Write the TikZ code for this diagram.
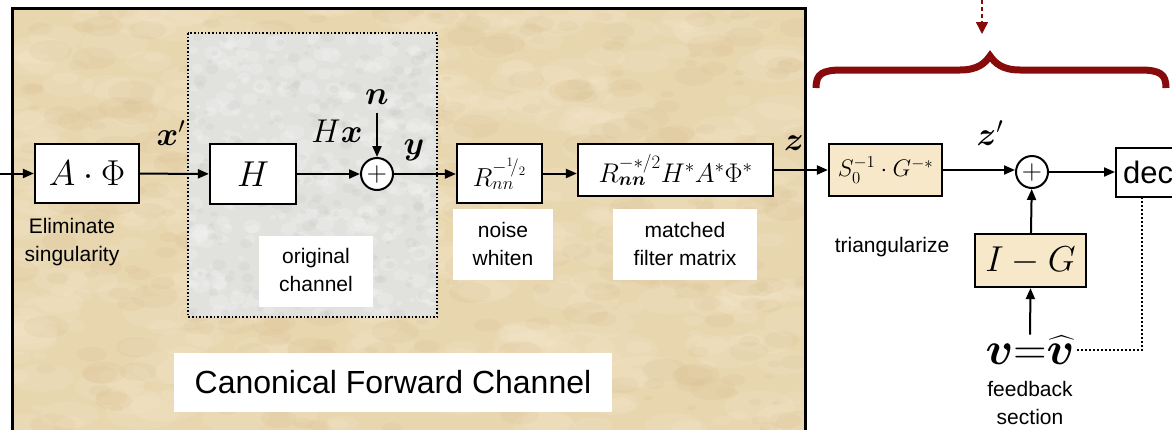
\documentclass[tikz,border=0pt]{standalone}
\usepackage{fix-cm}
\usepackage{amsmath,bm}
\usepackage{fontspec}
\setsansfont{Liberation Sans}
\usetikzlibrary{arrows.meta,calc}
\definecolor{bgtan}{HTML}{E8D6AF}
\definecolor{tanlight}{HTML}{F4E8CC}
\definecolor{tandark}{HTML}{D6BD8C}
\definecolor{bggray}{HTML}{E1E1DE}
\definecolor{graylight}{HTML}{F2F2F0}
\definecolor{graydark}{HTML}{C6C6C2}
\definecolor{boxtan}{HTML}{F8E8CA}
\definecolor{bracered}{HTML}{870B0B}
\newcommand\lbltxt{\fontsize{21}{28}\selectfont\sffamily}
\begin{document}
\begin{tikzpicture}[x=1pt,y=-1pt,
  blk/.style={draw, line width=2.2pt, fill=white, inner sep=0pt},
  sumnode/.style={draw, circle, line width=2pt, fill=white, minimum size=32pt, inner sep=0pt, font=\fontsize{28}{30}\selectfont},
  arr/.style={line width=2pt, -{Triangle[length=11pt,width=9pt]}},
  whitebox/.style={fill=white, draw=none},
  note/.style={align=center, font=\lbltxt},
  mlab/.style={inner sep=0pt, font=\fontsize{33}{36}\selectfont}
]
\clip (0,0) rectangle (1172,429);
\fill[white] (0,0) rectangle (1172,429);
% backgrounds with a light parchment texture
\fill[bgtan] (12,8) rectangle (805,450);
\begin{scope}
\clip (12,8) rectangle (805,429);
\pgfmathsetseed{11}
\foreach \i in {1,...,420}{
  \pgfmathsetmacro\xx{12+793*rnd}
  \pgfmathsetmacro\yy{8+421*rnd}
  \pgfmathsetmacro\rr{3+14*rnd}
  \fill[tanlight, opacity=0.22] (\xx,\yy) ellipse ({2.2*\rr} and {\rr});
}
\foreach \i in {1,...,320}{
  \pgfmathsetmacro\xx{12+793*rnd}
  \pgfmathsetmacro\yy{8+421*rnd}
  \pgfmathsetmacro\rr{2+10*rnd}
  \fill[tandark, opacity=0.16] (\xx,\yy) ellipse ({2*\rr} and {\rr});
}
\end{scope}
\fill[bggray] (188,33) rectangle (437,317);
\begin{scope}
\clip (188,33) rectangle (437,317);
\foreach \i in {1,...,320}{
  \pgfmathsetmacro\xx{188+249*rnd}
  \pgfmathsetmacro\yy{33+284*rnd}
  \pgfmathsetmacro\rr{2+6*rnd}
  \fill[graylight, opacity=0.35] (\xx,\yy) ellipse ({1.3*\rr} and {\rr});
}
\foreach \i in {1,...,240}{
  \pgfmathsetmacro\xx{188+249*rnd}
  \pgfmathsetmacro\yy{33+284*rnd}
  \pgfmathsetmacro\rr{1.5+4*rnd}
  \fill[graydark, opacity=0.22] (\xx,\yy) ellipse ({1.3*\rr} and {\rr});
}
\end{scope}
\draw[line width=1.6pt, dotted] (188,33) rectangle (437,317);
\draw[line width=3pt] (12,460) -- (12,8) -- (805,8) -- (805,460);
% white label boxes
\fill[whitebox] (259,236) rectangle (373,307);
\fill[whitebox] (453,209) rectangle (553,280);
\fill[whitebox] (613,209) rectangle (757,280);
\fill[whitebox] (174,353) rectangle (612,412);
\node[note] (orig) at (316,270) {original\\channel};
\node[note] (nw) at (503,244) {noise\\whiten};
\node[note] (mfm) at (685,244) {matched\\filter matrix};
\node[note] (elim) at (72,242) {Eliminate\\singularity};
\node[note] (tri) at (892,247) {triangularize};
\node[note] (fbs) at (1030,403) {feedback\\section};
\node[font=\fontsize{32}{36}\selectfont\sffamily] (cfc) at (393,382) {Canonical Forward Channel};
% blocks
\coordinate (in) at (0,173.5);
\node[blk, minimum width=104pt, minimum height=59pt, font=\fontsize{36}{40}\selectfont] (AP) at (87,173.5) {$A\cdot\Phi$};
\node[blk, minimum width=86pt, minimum height=60pt, font=\fontsize{36}{40}\selectfont] (H) at (253,174) {$H$};
\node[sumnode] (s1) at (377,174) {$+$};
\node[blk, minimum width=85pt, minimum height=59pt, font=\fontsize{26}{30}\selectfont] (R) at (499.5,173.5) {$R_{nn}^{-{}^{1}\!/{}_{2}}$};
\node[blk, minimum width=195pt, minimum height=52pt, font=\fontsize{27}{30}\selectfont] (MF) at (675.5,170) {$R_{\bm{nn}}^{-*/2}H^{*}A^{*}\Phi^{*}$};
\node[blk, fill=boxtan, minimum width=113pt, minimum height=52pt, font=\fontsize{24}{28}\selectfont] (S) at (885.5,170) {$S_0^{-1}\cdot G^{-*}$};
\node[sumnode] (s2) at (1032,172) {$+$};
\node[blk, anchor=west, minimum height=49pt, inner xsep=7pt, font=\fontsize{31}{34}\selectfont\sffamily] (dec) at (1115,172.5) {dec\hspace{30pt}};
\node[blk, fill=boxtan, minimum width=111pt, minimum height=53pt, font=\fontsize{36}{40}\selectfont] (IG) at (1030.5,260.5) {$I-G$};
\node[inner sep=1pt, font=\fontsize{46}{50}\selectfont] (v) at (1030,350) {$\bm{v}{=}\widehat{\bm{v}}$};
% labels
\node[mlab] (lx) at (171,133) {$\bm{x}'$};
\node[mlab] (lhx) at (337,131) {$H\bm{x}$};
\node[mlab] (ln) at (377,97) {$\bm{n}$};
\node[mlab] (ly) at (414,150) {$\bm{y}$};
\node[mlab] (lz) at (794,143) {$\bm{z}$};
\node[mlab] (lzp) at (990,133) {$\bm{z}'$};
% connectors
\draw[arr] (in) -- (AP);
\draw[arr] (AP) -- (H);
\draw[arr] (H) -- (s1);
\draw[arr] (ln.south) ++(0,8) -- (s1.north);
\draw[arr] (s1) -- (R.west |- s1);
\draw[arr] (R) -- (MF.west |- R);
\draw[arr] (MF) -- (S);
\draw[arr] (S) -- (s2.west |- S);
\draw[arr] (s2) -- (dec.west |- s2);
\draw[arr] (IG) -- (s2);
\draw[arr] (v.north) -- (IG.south);
\coordinate (decb) at (1142,197);
\draw[line width=2pt, dotted] (decb) |- (v.east);
% brace and dashed arrow
\coordinate (bt) at (982,0);
\coordinate (btip) at (982,34);
\draw[bracered, line width=1.5pt, dashed, dash pattern=on 4pt off 3pt, -{Triangle[length=12pt,width=12pt]}] (bt) -- (btip);
\draw[bracered, line width=7pt] (816,88) .. controls (816,74) and (822,70) .. (842,70) -- (960,70) .. controls (978,70) and (985,63) .. (990,56) .. controls (995,63) and (1002,70) .. (1020,70) -- (1140,70) .. controls (1160,70) and (1166,74) .. (1166,88);
\end{tikzpicture}
\end{document}
